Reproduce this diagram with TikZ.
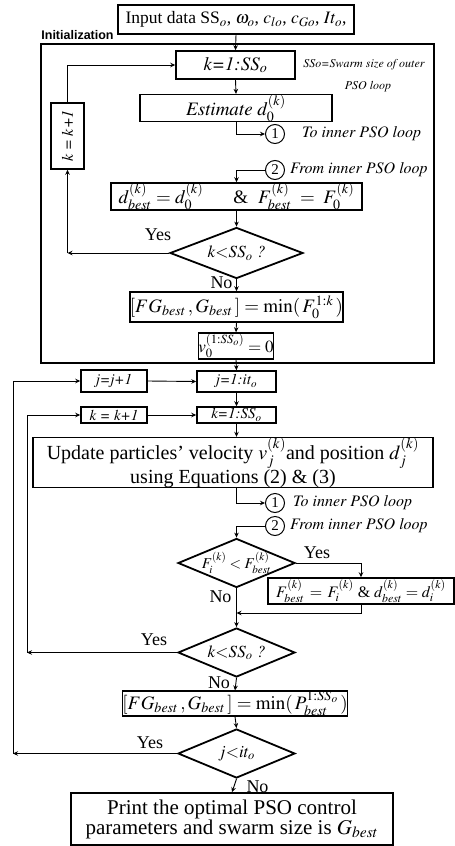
\documentclass[tikz,border=0pt]{standalone}
\usepackage{mathptmx}
\usepackage[no-math]{fontspec}
\setmainfont{Liberation Serif}
\newfontfamily\headsans{Liberation Sans}
\newcommand\timesit{\usefont{OT1}{ptm}{m}{it}}
\usetikzlibrary{shapes.geometric,arrows.meta}
\begin{document}
\begin{tikzpicture}[x=1pt,y=-1pt,
  box/.style={draw,line width=1.5pt,inner sep=0pt,align=center,font=\fontsize{19}{19}\selectfont},
  sbox/.style={draw,line width=1.5pt,inner sep=0pt,align=center,font=\fontsize{15}{15}\selectfont},
  dia/.style={draw,diamond,line width=1.8pt,inner sep=0pt,minimum width=117pt,minimum height=49pt},
  dtext/.style={font=\fontsize{17}{18}\selectfont,inner sep=0pt},
  circ/.style={draw,circle,line width=1pt,minimum size=19pt,inner sep=0pt,font=\fontsize{15}{15}\selectfont},
  note/.style={font=\timesit\fontsize{16}{17}\selectfont,anchor=west,inner sep=0pt},
  lab/.style={font=\fontsize{18}{18}\selectfont,inner sep=0pt},
  arr/.style={line width=0.9pt,-{Stealth[length=5pt,width=4.5pt]}}]
\useasboundingbox (0,0) rectangle (455,846);
\fill[white] (0,0) rectangle (455,846);

% frame
\node[draw,line width=1.2pt,minimum width=393pt,minimum height=319pt,inner sep=0pt] (frame) at (237.5,203.5) {};
\node[font=\headsans\bfseries\fontsize{12.5}{13}\selectfont,inner sep=0pt] (initlab) at (77.5,35) {Initialization};

% top part
\node[box,minimum width=236pt,minimum height=29pt,font=\fontsize{17.5}{18}\selectfont] (inp) at (236,19.5)
  {Input data SS$_{o}$, $\omega_{o}$, $c_{lo}$, $c_{Go}$, $It_{o}$,};
\node[box,minimum width=119pt,minimum height=28pt] (k1) at (235.5,65) {\timesit k=1:SS\textsubscript{o}};
\node[font=\timesit\fontsize{12}{13}\selectfont,inner sep=0pt] (ssnote) at (364,65) {SSo=Swarm size of outer};
\node[font=\timesit\fontsize{12}{13}\selectfont,inner sep=0pt] (ssnote2) at (368,87) {PSO loop};
\node[box,minimum width=192pt,minimum height=24pt] (est) at (236,108) {{\timesit Estimate} $d_0^{(k)}$};
\node[box,minimum width=33pt,minimum height=66pt] (kk) at (67.5,136) {};
\node[rotate=90,font=\timesit\fontsize{16}{16}\selectfont,inner sep=0pt] (kkt) at (kk) {k = k+1};
\node[circ] (c1a) at (275,134) {1};
\node[note] (n1a) at (302,134) {To inner PSO loop};
\node[circ] (c2a) at (275,170) {2};
\node[note] (n2a) at (290,170) {From inner PSO loop};
\node[box,minimum width=251pt,minimum height=27pt] (dbest) at (236.5,196.5)
  {$d^{(k)}_{best}=d^{(k)}_{0}$\hspace{30pt}\&\hspace{10pt}$F^{(k)}_{best}\;=\;F^{(k)}_{0}$};
\node[dia,minimum width=133pt,minimum height=51pt] (d1) at (236.5,253) {};
\node[dtext] (d1t) at (d1) {$k{<}SS_o$ {\timesit ?}};
\node[lab] (yes1) at (158,235) {Yes};
\node[lab] (no1) at (221.5,283) {No};
\node[box,minimum width=199pt,minimum height=30pt] (min1) at (236.5,307) {$[FG_{best}\,, G_{best}\,] = \min(\,F_0^{1:k}\,)$};
\node[box,minimum width=74pt,minimum height=26pt,font=\fontsize{17}{17}\selectfont] (v0) at (236,346) {$v_0^{(1:SS_o)}=0$};

% lower part
\node[sbox,minimum width=66pt,minimum height=22pt] (jj) at (114,381) {\timesit j=j+1};
\node[sbox,minimum width=79pt,minimum height=21pt] (j1) at (236.5,381.5) {\timesit j=1:it\textsubscript{o}};
\node[sbox,minimum width=66pt,minimum height=16pt] (kk2) at (114,415) {\timesit k = k+1};
\node[sbox,minimum width=79pt,minimum height=16pt] (k2) at (236.5,415) {\timesit k=1:SS\textsubscript{o}};
\node[box,minimum width=400pt,minimum height=49pt,font=\fontsize{20}{19}\selectfont] (upd) at (233,462.5)
  {Update particles' velocity $v_j^{(k)}$and position $d_j^{(k)}$\\ using Equations (2) \& (3)};
\node[circ] (c1b) at (275,503) {1};
\node[note] (n1b) at (293,503) {To inner PSO loop};
\node[circ] (c2b) at (275,526) {2};
\node[note] (n2b) at (290,526) {From inner PSO loop};
\node[dia] (d2) at (236.5,563) {};
\node[dtext,font=\fontsize{15}{15}\selectfont] (d2t) at (d2) {$F_i^{(k)} < F_{best}^{(k)}$};
\node[lab] (yes2) at (317,553) {Yes};
\node[lab] (no2) at (220.5,597) {No};
\node[box,minimum width=186pt,minimum height=26pt,font=\fontsize{16}{16}\selectfont] (fb) at (361,591)
  {$F^{(k)}_{best}\,=\,F_i^{(k)}$ \& $d^{(k)}_{best}=d^{(k)}_i$};
\coordinate (m1) at (236.5,613);
\node[dia] (d3) at (236.5,652.5) {};
\node[dtext] (d3t) at (d3) {$k{<}SS_o$ {\timesit ?}};
\node[lab] (yes3) at (154,640) {Yes};
\node[lab] (no3) at (219,683) {No};
\node[box,minimum width=210pt,minimum height=23pt] (min2) at (235,703.5) {$[FG_{best}\,, G_{best}\,] = \min(\,P_{best}^{1:SS_o}\,)$};
\node[dia] (d4) at (236.5,753.5) {};
\node[dtext] (d4t) at (d4) {$j{<}it_o$};
\node[lab] (yes4) at (150,743) {Yes};
\node[lab] (no4) at (257.5,787) {No};
\node[box,minimum width=322pt,minimum height=52pt,font=\fontsize{21}{20}\selectfont] (fin) at (232,819)
  {Print the optimal PSO control\\parameters and swarm size is $G_{best}$};

\coordinate (y1) at (kk.south |- d1.west);
\coordinate (y3) at (27,652.5);
\coordinate (y4) at (13,753.5);

% connectors
\draw[arr] (inp.south) -- (k1.north);
\draw[arr] (k1.south) -- (est.north);
\draw[arr] (est.south) |- (c1a.west);
\draw[arr] (c2a.west) -| (dbest.north);
\draw[arr] (dbest.south) -- (d1.north);
\draw[arr] (d1.west) -- (y1);
\draw[arr] (y1) -- (kk.south);
\draw[arr] (kk.north) |- (k1.west);
\draw[arr] (d1.south) -- (min1.north);
\draw[arr] (min1.south) -- (v0.north);
\draw[arr] (v0.south) -- (j1.north);
\draw[arr] (j1.south) -- (k2.north);
\draw[arr] (jj.east) -- (j1.west);
\draw[arr] (kk2.east) -- (k2.west);
\draw[arr] (k2.south) -- (k2.south |- upd.north);
\draw[arr] (k2.south |- upd.south) |- (c1b.west);
\draw[arr] (c2b.west) -| (d2.north);
\draw[arr] (d2.east) -| (fb.north);
\draw[arr] (fb.south) |- (m1);
\draw[arr] (d2.south) -- (d3.north);
\draw[arr] (d3.west) -- (y3);
\draw[arr] (y3) |- (kk2.west);
\draw[arr] (d3.south) -- (min2.north);
\draw[arr] (min2.south) -- (d4.north);
\draw[arr] (d4.west) -- (y4);
\draw[arr] (y4) |- (jj.west);
\draw[arr] (d4.south) -- (fin.north);
\end{tikzpicture}
\end{document}
